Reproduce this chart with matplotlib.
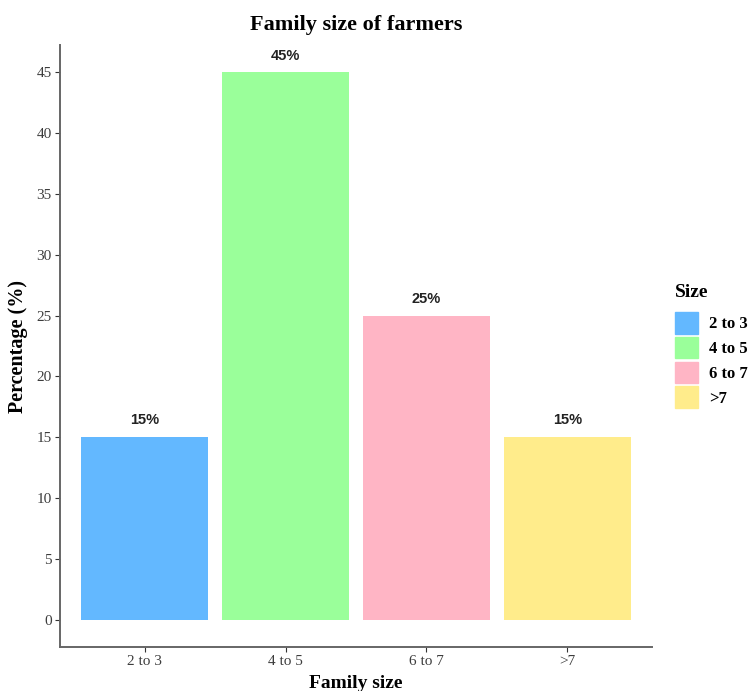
import matplotlib.pyplot as plt
import matplotlib.patches as mpatches
import numpy as np

# data
sizes = ["2 to 3", "4 to 5", "6 to 7", ">7"]
percent = [15, 45, 25, 15]
colors = ["#63B8FF", "#9AFF9A", "#FFB5C5", "#FFEC8B"]

serif = "Liberation Serif"
sans = "Liberation Sans"

fig = plt.figure(figsize=(7.53, 6.91), dpi=100)
ax = fig.add_axes([60 / 753, 1 - 647 / 691, 592 / 753, 602 / 691])

x = np.arange(1, len(sizes) + 1)
ax.bar(x, percent, width=0.9, color=colors)

for xi, v in zip(x, percent):
    ax.annotate(f"{v}%", (xi, v), xytext=(0, 7), textcoords="offset points",
                ha="center", va="bottom", fontsize=10.5, fontweight="bold",
                family=sans, color="#222222")

ax.set_xlim(0.4, 4.6)
ax.set_ylim(-2.25, 47.25)
ax.set_xticks(x)
ax.set_xticklabels(sizes)
ax.set_yticks(np.arange(0, 50, 5))

for lab in ax.get_xticklabels() + ax.get_yticklabels():
    lab.set_family(serif)
    lab.set_fontsize(11)
    lab.set_color("#3d3d3d")

ax.tick_params(axis="both", length=3.5, width=0.8, color="#333333", pad=2.5)
ax.spines["top"].set_visible(False)
ax.spines["right"].set_visible(False)
for s in ["left", "bottom"]:
    ax.spines[s].set_color("#666666")
    ax.spines[s].set_linewidth(1.4)

ax.set_xlabel("Family size", family=serif, fontsize=14, fontweight="bold", labelpad=5)
ax.set_ylabel("Percentage (%)", family=serif, fontsize=14.5, fontweight="bold", labelpad=6)
fig.text(356 / 753, 1 - 25 / 691, "Family size of farmers", family=serif, fontsize=16,
         fontweight="bold", ha="center", va="center")

# legend
handles = [mpatches.Patch(color=c, label=s) for c, s in zip(colors, sizes)]
leg = fig.legend(handles=handles, title="Size", loc="upper left",
                 bbox_to_anchor=(675 / 753, 1 - 284 / 691), frameon=False,
                 borderpad=0, borderaxespad=0,
                 handlelength=1.35, handleheight=1.6, handletextpad=0.7,
                 labelspacing=0.2, prop={"family": serif, "weight": "bold", "size": 12})
leg.get_title().set_family(serif)
leg.get_title().set_fontweight("bold")
leg.get_title().set_fontsize(14)
leg._legend_box.align = "left"
leg._legend_box.sep = 8

fig.savefig("out.png", dpi=100)
